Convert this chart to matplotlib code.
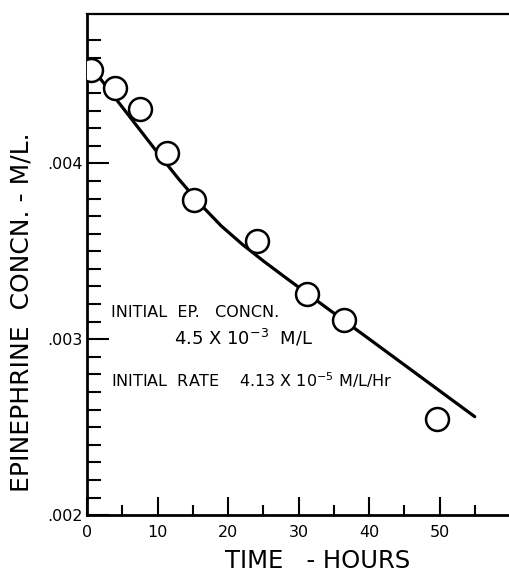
import numpy as np
import matplotlib.pyplot as plt

# measured points (hours, M/L)
hours = [0.5, 4, 7.5, 11.3, 15.2, 24.1, 31.2, 36.5, 49.6]
conc = [0.00453, 0.00443, 0.00431, 0.00406, 0.00379, 0.00356, 0.00326, 0.00311, 0.002545]

# smooth fitted curve as drawn
curve_t = [1.5, 4, 7, 10, 13, 16, 19, 22, 25, 28, 34, 40, 47.5, 55]
curve_c = [0.0045, 0.00437, 0.004215, 0.00406, 0.00391, 0.00377, 0.003645, 0.00354,
           0.003445, 0.003355, 0.003178, 0.003002, 0.002781, 0.00256]

xticks = [0, 10, 20, 30, 40, 50]
yticks = [0.002, 0.003, 0.004]
yticklabels = ['.002', '.003', '.004']

fig = plt.figure(figsize=(5.1, 5.75), dpi=100)
ax = fig.add_axes([0.171, 0.104, 0.829, 0.872])

ax.plot(curve_t, curve_c, color='black', lw=2.3, solid_capstyle='round', zorder=2)
ax.plot(hours, conc, 'o', ms=16.5, mfc='white', mec='black', mew=1.8, zorder=3)

ax.set_xlim(0, 60)
ax.set_ylim(0.002, 0.00485)

ax.set_xticks(xticks)
ax.set_xticks(np.arange(5, 60, 10), minor=True)
ax.set_yticks(yticks)
ax.set_yticklabels(yticklabels)
ax.set_yticks(np.arange(0.0021, 0.0048, 0.0001), minor=True)

ax.tick_params(axis='both', which='both', direction='in', width=1.5, labelsize=11.5)
ax.tick_params(axis='y', which='major', length=16, pad=3)
ax.tick_params(axis='y', which='minor', length=10)
ax.tick_params(axis='x', which='major', length=13, pad=7)
ax.tick_params(axis='x', which='minor', length=7)

ax.spines['right'].set_visible(False)
for s in ['left', 'bottom']:
    ax.spines[s].set_linewidth(2)
ax.spines['top'].set_linewidth(1.6)

ax.set_xlabel('TIME   - HOURS', fontsize=17.5)
ax.xaxis.set_label_coords(0.545, -0.068)
ax.set_ylabel('EPINEPHRINE  CONCN. - M/L.', fontsize=18)
ax.yaxis.set_label_coords(-0.128, 0.405)

ax.text(3.4, 0.003153, 'INITIAL  EP.   CONCN.', fontsize=11.5, va='center')
ax.text(12.3, 0.00301, r'4.5 X 10$^{-3}$  M/L', fontsize=13, va='center')
ax.text(3.4, 0.002767, r'INITIAL  RATE    4.13 X 10$^{-5}$ M/L/Hr', fontsize=11.5, va='center')

plt.savefig('out.png', dpi=100)
